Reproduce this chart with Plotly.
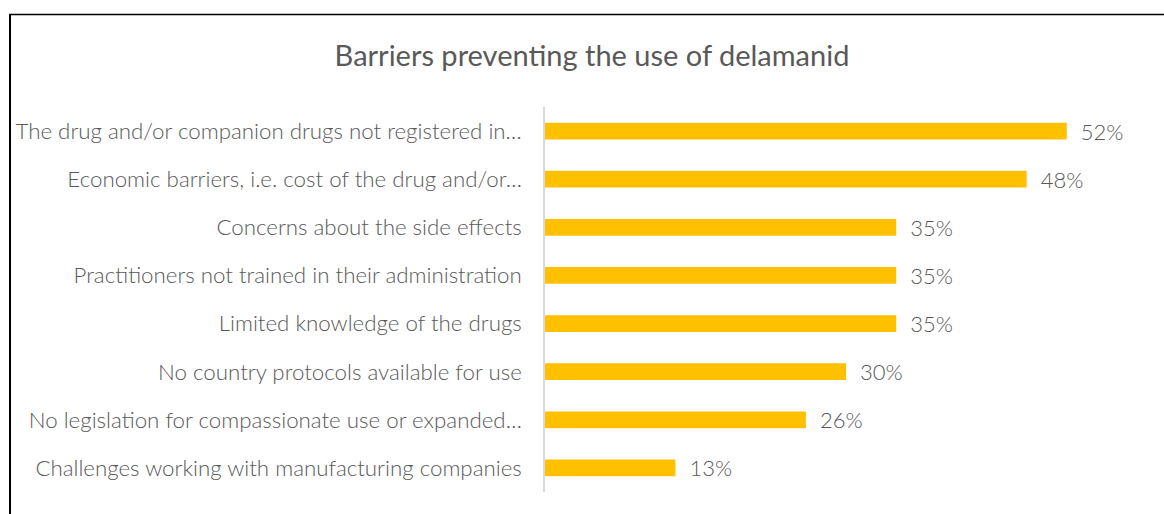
import plotly.graph_objects as go

# Survey responses: barriers preventing the use of delamanid
barriers = [
    "The drug and/or companion drugs not registered in…",
    "Economic barriers, i.e. cost of the drug and/or…",
    "Concerns about the side effects",
    "Practitioners not trained in their administration",
    "Limited knowledge of the drugs",
    "No country protocols available for use",
    "No legislation for compassionate use or expanded…",
    "Challenges working with manufacturing companies",
]
shares = [52, 48, 35, 35, 35, 30, 26, 13]

W, H = 1164, 514
ML, MR, MT, MB = 545, 34, 107, 22
plot_w = W - ML - MR
plot_h = H - MT - MB


def px_to_paper_x(px):
    return (px - ML) / plot_w


def px_to_paper_y(py):
    return (H - MB - py) / plot_h


TEXT = "#595959"
FONT = "Lato"

fig = go.Figure(
    go.Bar(
        y=barriers,
        x=shares,
        orientation="h",
        marker=dict(color="#FFC000", line=dict(width=0)),
        width=0.35,
        texttemplate="\u2002%{x}%",
        textposition="outside",
        constraintext="none",
        textfont=dict(family=FONT, size=22, color=TEXT, weight=300),
        cliponaxis=False,
    )
)

fig.update_layout(
    width=W,
    height=H,
    margin=dict(l=ML, r=MR, t=MT, b=MB),
    paper_bgcolor="white",
    plot_bgcolor="white",
    showlegend=False,
    title=dict(
        text="Barriers preventing the use of delamanid",
        x=592 / W,
        xanchor="center",
        y=1 - 56 / H,
        yanchor="middle",
        font=dict(family=FONT, size=29, color=TEXT),
    ),
    xaxis=dict(
        range=[0, 58.3],
        showgrid=False,
        zeroline=False,
        showticklabels=False,
        showline=False,
    ),
    yaxis=dict(
        autorange="reversed",
        showgrid=False,
        zeroline=False,
        showline=True,
        linecolor="#d9d9d9",
        linewidth=1.5,
        ticks="",
        ticklabelstandoff=17,
        tickfont=dict(family=FONT, size=22.3, color=TEXT, weight=300),
    ),
    shapes=[
        # outer chart frame (left and top edges)
        dict(type="line", xref="paper", yref="paper",
             x0=px_to_paper_x(10), x1=px_to_paper_x(10),
             y0=px_to_paper_y(14), y1=px_to_paper_y(H + 5),
             line=dict(color="black", width=2)),
        dict(type="line", xref="paper", yref="paper",
             x0=px_to_paper_x(9), x1=px_to_paper_x(W + 5),
             y0=px_to_paper_y(14.5), y1=px_to_paper_y(14.5),
             line=dict(color="black", width=1.5)),
    ],
)

fig.write_html("out.html")
